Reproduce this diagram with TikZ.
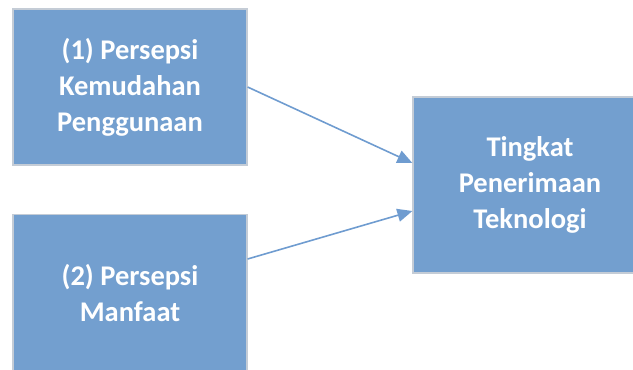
\documentclass[tikz,border=0pt]{standalone}
\usepackage{fontspec}
\setmainfont{Carlito}
\usetikzlibrary{arrows.meta}
\definecolor{boxfill}{HTML}{739FCF}
\definecolor{boxline}{HTML}{C4CCD6}
\definecolor{arrowcol}{HTML}{6F9CD0}
\tikzset{
  conceptbox/.style={draw=boxline, line width=1.2pt, fill=boxfill, text=white,
    font=\bfseries\fontsize{28.5}{36}\selectfont, align=center, inner sep=0pt,
    minimum width=234pt},
  linkarrow/.style={draw=arrowcol, line width=1.6pt,
    -{Triangle[length=15pt,width=13pt]}}
}
\begin{document}
\begin{tikzpicture}[x=1pt,y=-1pt]
\useasboundingbox (0,0) rectangle (633,370);
\node[conceptbox, minimum height=156pt] (b1) at (130,87) {(1) Persepsi\\Kemudahan\\Penggunaan};
\node[conceptbox, minimum height=157pt] (b2) at (130,293) {(2) Persepsi\\Manfaat};
\node[conceptbox, minimum height=176pt] (b3) at (530,185) {Tingkat\\Penerimaan\\Teknologi};
\coordinate (s2) at ([yshift=34pt]b2.east);
\coordinate (e1) at ([yshift=22pt]b3.west);
\coordinate (e2) at ([yshift=-26pt]b3.west);
\draw[linkarrow] (b1.east) -- (e1);
\draw[linkarrow] (s2) -- (e2);
\end{tikzpicture}
\end{document}
